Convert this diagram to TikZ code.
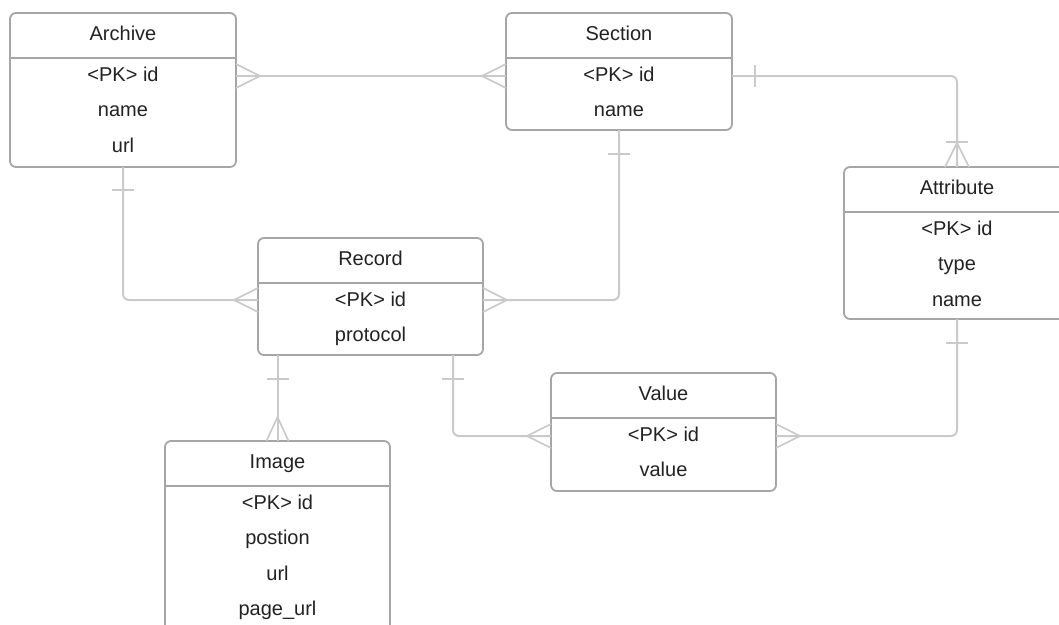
\documentclass[tikz,border=0pt]{standalone}
\usepackage{fontspec}
\setmainfont{Liberation Sans}
\definecolor{boxgray}{HTML}{A6A6A6}
\definecolor{conngray}{HTML}{CACACA}
\definecolor{textdark}{HTML}{222222}
\begin{document}
\begin{tikzpicture}[x=1pt,y=-1pt,
  ent/.style={draw=boxgray, line width=1.8pt, rounded corners=6pt, fill=white,
    inner sep=0pt, outer sep=0pt, rectangle},
  txt/.style={font=\fontsize{20}{22}\selectfont, text=textdark, inner sep=0pt, anchor=base},
  sepline/.style={draw=boxgray, line width=1.5pt},
  conn/.style={draw=conngray, line width=2pt, rounded corners=6pt},
  foot/.style={draw=conngray, line width=1.7pt},
]
\useasboundingbox (0,0) rectangle (1059,624);
\clip (0,0) rectangle (1059,624);

% ---------- entities ----------
\node[ent, minimum width=226pt, minimum height=154pt] (archive) at (123,90) {};
\draw[sepline] ([yshift=-45pt]archive.north west) -- ([yshift=-45pt]archive.north east);
\node[txt] (archiveT) at (123,40) {Archive};
\node[txt] (archive1) at (123,81) {<PK> id};
\node[txt] (archive2) at (123,116.5) {name};
\node[txt] (archive3) at (123,152) {url};

\node[ent, minimum width=226pt, minimum height=117pt] (section) at (619,71.5) {};
\draw[sepline] ([yshift=-45pt]section.north west) -- ([yshift=-45pt]section.north east);
\node[txt] (sectionT) at (619,40) {Section};
\node[txt] (section1) at (619,81) {<PK> id};
\node[txt] (section2) at (619,116.5) {name};

\node[ent, minimum width=226pt, minimum height=152pt] (attribute) at (957,243) {};
\draw[sepline] ([yshift=-45pt]attribute.north west) -- ([yshift=-45pt]attribute.north east);
\node[txt] (attributeT) at (957,194) {Attribute};
\node[txt] (attribute1) at (957,235) {<PK> id};
\node[txt] (attribute2) at (957,270.5) {type};
\node[txt] (attribute3) at (957,306) {name};

\node[ent, minimum width=225pt, minimum height=117pt] (record) at (370.5,296.5) {};
\draw[sepline] ([yshift=-45pt]record.north west) -- ([yshift=-45pt]record.north east);
\node[txt] (recordT) at (370.5,265) {Record};
\node[txt] (record1) at (370.5,306) {<PK> id};
\node[txt] (record2) at (370.5,341.5) {protocol};

\node[ent, minimum width=225pt, minimum height=191pt] (image) at (277.5,536.5) {};
\draw[sepline] ([yshift=-45pt]image.north west) -- ([yshift=-45pt]image.north east);
\node[txt] (imageT) at (277.5,468) {Image};
\node[txt] (image1) at (277.5,509) {<PK> id};
\node[txt] (image2) at (277.5,544.5) {postion};
\node[txt] (image3) at (277.5,580) {url};
\node[txt] (image4) at (277.5,615.5) {page\_url};

\node[ent, minimum width=225pt, minimum height=118pt] (value) at (663.5,432) {};
\draw[sepline] ([yshift=-45pt]value.north west) -- ([yshift=-45pt]value.north east);
\node[txt] (valueT) at (663.5,400) {Value};
\node[txt] (value1) at (663.5,441) {<PK> id};
\node[txt] (value2) at (663.5,476.5) {value};

% ---------- connectors ----------
% Archive -- Section (many to many)
\coordinate (as1) at ([yshift=-63pt]archive.north east);
\coordinate (as2) at ([yshift=-63pt]section.north west);
\draw[conn] (as1) -- (as2);
\draw[foot] (as1) ++(0,-12) -- ++(24,12) -- ++(-24,12);
\draw[foot] (as2) ++(0,-12) -- ++(-24,12) -- ++(24,12);

% Archive -- Record
\coordinate (ar) at ([yshift=-62pt]record.north west);
\draw[conn] (archive.south) |- (ar);
\draw[foot] (archive.south) ++(-11,23) -- ++(22,0);
\draw[foot] (ar) ++(0,-12) -- ++(-24,12) -- ++(24,12);

% Section -- Record
\coordinate (sr) at ([yshift=-62pt]record.north east);
\draw[conn] (section.south) |- (sr);
\draw[foot] (section.south) ++(-11,24) -- ++(22,0);
\draw[foot] (sr) ++(0,-12) -- ++(24,12) -- ++(-24,12);

% Section -- Attribute
\coordinate (sa) at ([yshift=-63pt]section.north east);
\draw[conn] (sa) -| (attribute.north);
\draw[foot] (sa) ++(23,-11) -- ++(0,22);
\draw[foot] (attribute.north) ++(-12,0) -- ++(12,-24) -- ++(12,24);
\draw[foot] (attribute.north) ++(-11,-25) -- ++(22,0);

% Record -- Image
\coordinate (ri) at (image.north |- record.south);
\draw[conn] (ri) -- (image.north);
\draw[foot] (ri) ++(-11,24) -- ++(22,0);
\draw[foot] (image.north) ++(-11,0) -- ++(11,-24) -- ++(11,24);

% Record -- Value
\coordinate (rv1) at ([xshift=-30pt]record.south east);
\coordinate (rv2) at ([yshift=-63pt]value.north west);
\draw[conn] (rv1) |- (rv2);
\draw[foot] (rv1) ++(-11,24) -- ++(22,0);
\draw[foot] (rv2) ++(0,-12) -- ++(-24,12) -- ++(24,12);

% Attribute -- Value
\coordinate (av) at ([yshift=-63pt]value.north east);
\draw[conn] (attribute.south) |- (av);
\draw[foot] (attribute.south) ++(-11,24) -- ++(22,0);
\draw[foot] (av) ++(0,-12) -- ++(24,12) -- ++(-24,12);
\end{tikzpicture}
\end{document}
